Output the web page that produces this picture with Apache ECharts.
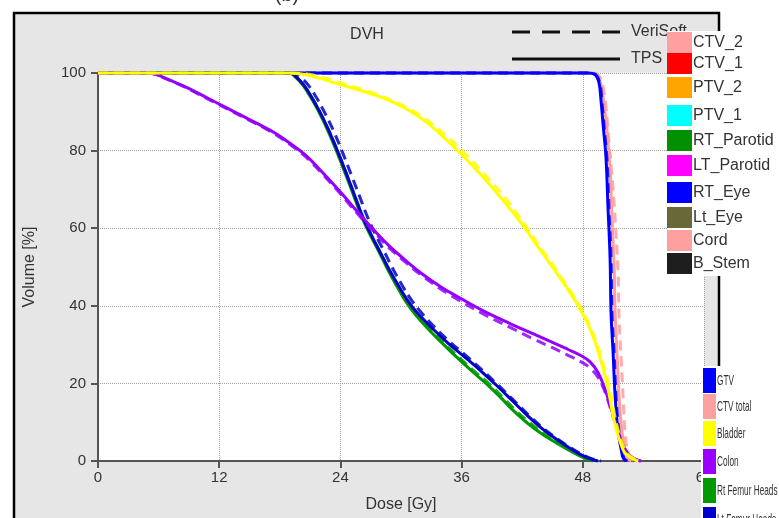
<!DOCTYPE html>
<html>
<head>
<meta charset="utf-8">
<script src="https://cdn.jsdelivr.net/npm/echarts@6/dist/echarts.min.js"></script>
<style>
  html, body { margin: 0; padding: 0; background: #fff; }
  #chart { width: 779px; height: 518px; }
</style>
</head>
<body>
<div id="chart"></div>
<script>
// axis ticks
const doseTicks = [0, 12, 24, 36, 48, 60]
const volumeTicks = [0, 20, 40, 60, 80, 100]

// DVH curves [dose Gy, volume %], TPS (solid) and VeriSoft (dashed)
const ctvTps = [[0,100],[48.7,100],[49.4,99.5],[49.8,97],[50.1,92],[50.4,85],[50.7,75],[50.9,62],[51.1,50],[51.2,38],[51.4,27],[51.6,16],[51.9,7],[52.2,2.5],[52.5,0.5],[52.8,0]]
const ctvVeri = [[0,100],[49,100],[49.6,99.3],[50,96.5],[50.3,91],[50.6,82],[51,70],[51.3,58],[51.5,48],[51.6,36],[51.8,26],[52,16],[52.2,7],[52.5,2],[52.9,0.4],[53.2,0]]
const gtvTps = [[0,100],[48.5,100],[49.2,99.6],[49.6,97.5],[49.8,93],[50,87],[50.3,78],[50.5,65],[50.7,52.4],[50.8,38],[51,28],[51.2,16.8],[51.5,7.4],[51.8,3],[52,0.8],[52.3,0]]
const gtvVeri = [[0,100],[48.6,100],[49.3,99.5],[49.7,97.2],[49.9,92.5],[50.1,86.5],[50.4,77.5],[50.6,64.5],[50.8,52],[50.9,38],[51.1,28],[51.3,16.5],[51.6,7.2],[51.9,2.8],[52.1,0.7],[52.4,0]]
const rtFemurTps = [[0,100],[18.9,100],[19.6,98.8],[20.3,96.8],[21,94],[21.8,90.3],[22.7,85.5],[23.6,80],[24.5,74],[25.3,68.5],[26.1,63],[27,58],[27.8,54],[28.7,49.3],[29.6,45],[30.5,41],[31.5,37.5],[33,33.2],[34.5,29.3],[35.7,26.3],[37,23.2],[38.5,19.8],[40,16],[41,13.3],[42.5,9.8],[44,6.9],[45.3,4.8],[46.5,3],[47.5,1.6],[48.3,0.6],[49,0]]
const rtFemurVeri = [[0,100],[19,100],[19.7,98.8],[20.4,96.8],[21.1,94],[21.9,90.3],[22.8,85.5],[23.7,80],[24.6,74],[25.4,68.5],[26.2,63],[27.1,58],[27.9,54],[28.8,49.3],[29.7,45],[30.6,41],[31.6,37.5],[33.1,33.3],[34.6,29.5],[35.8,26.6],[37.1,23.5],[38.6,20.2],[40.1,16.4],[41.1,13.7],[42.6,10.2],[44.1,7.2],[45.4,5],[46.6,3.1],[47.6,1.7],[48.5,0.6],[49.2,0]]
const ltFemurTps = [[0,100],[19,100],[19.7,98.8],[20.4,96.8],[21.1,94],[21.9,90.3],[22.8,85.5],[23.7,80],[24.6,74],[25.4,68.5],[26.2,63],[27.1,58],[27.9,54],[28.8,49.5],[29.7,45.4],[30.6,41.6],[31.6,38.2],[33.1,34.2],[34.6,30.5],[36.4,26.6],[38,23],[39.5,19.4],[41,15.6],[42.6,11.5],[44,8.3],[45.5,5.4],[46.6,3.5],[47.6,1.9],[48.6,0.7],[49.5,0]]
const ltFemurVeri = [[0,100],[19.3,100],[20.1,98.8],[20.9,96.6],[21.6,93.8],[22.4,90],[23.3,85.2],[24.2,79.6],[25.1,73.6],[25.9,68.2],[26.7,62.8],[27.5,58.2],[28.3,54.2],[29.1,50],[30,45.8],[30.9,42],[31.9,38.6],[33.3,34.6],[34.8,30.8],[36.5,27],[38.1,23.3],[39.6,19.6],[41.1,15.8],[42.7,11.7],[44.1,8.4],[45.6,5.5],[46.7,3.6],[47.7,2],[48.8,0.7],[49.8,0]]
const colonTps = [[0,100],[5,100],[6,99.4],[7,98.3],[8.5,96.6],[10,94.7],[11.7,92.4],[13.5,90],[15,88],[16.5,86],[17.6,84.4],[19,81.9],[20.6,78.7],[22,75],[23.85,69.8],[25,66.3],[26.1,63],[27.5,59],[28.8,55.5],[30.5,51.6],[32,48.4],[34,44.8],[35.7,42.2],[38,38.9],[40.9,35.3],[43,32.9],[45,30.6],[46.5,28.8],[47.8,27.2],[48.7,25.6],[49.5,22.8],[50.2,18.5],[50.8,13.5],[51.3,9.3],[51.8,5.3],[52.3,2.4],[53,0.7],[53.7,0]]
const colonVeri = [[0,100],[5,100],[6,99.3],[7,98.2],[8.5,96.5],[10,94.5],[11.7,92.2],[13.5,89.8],[15,87.8],[16.5,85.8],[17.6,84.1],[19,81.6],[20.6,78.3],[22,74.6],[23.85,69.3],[25,65.8],[26.1,62.5],[27.5,58.5],[28.8,55],[30.5,51.1],[32,47.9],[34,44.2],[35.7,41.5],[38,38.1],[40.9,34.3],[43,31.6],[45,29.2],[46.5,27.3],[47.8,25.6],[48.7,24],[49.5,21.6],[50.2,17.8],[50.8,13],[51.3,9],[51.8,5.1],[52.4,2.2],[53.1,0.6],[53.8,0]]
const bladderTps = [[0,100],[19,100],[20.5,99.6],[22,98.6],[24,97],[26,95.5],[28,93.8],[30,91.5],[32,88.3],[34,84],[36,79],[38,73.5],[40,67.5],[42,61],[43.5,55.4],[44.5,51.8],[45.5,48.1],[46.5,44.3],[47.5,40.2],[48.5,35.3],[49.2,30.8],[49.8,25.8],[50.3,21],[50.7,16],[51,11.5],[51.4,7.3],[51.8,4.2],[52.2,2],[53,0.5],[53.5,0]]
const bladderVeri = [[0,100],[19.5,100],[21,99.6],[22.5,98.7],[24.5,97.1],[26.5,95.5],[28.5,93.6],[30.5,91.2],[32.5,88],[34.5,83.8],[36.5,78.8],[38.5,73.2],[40.5,67.2],[42.3,60.8],[43.8,55],[44.8,51.4],[45.8,47.6],[46.8,43.7],[47.8,39.5],[48.7,34.8],[49.4,30.2],[50,25.2],[50.5,20.5],[50.9,15.5],[51.2,11.2],[51.6,7],[52,4],[52.4,1.9],[53.2,0.4],[53.7,0]]

// legends
const legendNames1 = ['CTV_2', 'CTV_1', 'PTV_2', 'PTV_1', 'RT_Parotid', 'LT_Parotid', 'RT_Eye', 'Lt_Eye', 'Cord', 'B_Stem']
const legendColors1 = ['#ffa0a0', '#ff0000', '#ffa500', '#00ffff', '#009000', '#ff00ff', '#0000ff', '#686838', '#ffa0a0', '#1e1e1e']
const legendNames2 = ['GTV', 'CTV total', 'Bladder', 'Colon', 'Rt Femur Heads', 'Lt Femur Heads']
const legendColors2 = ['#0000ff', '#ffa0a0', '#ffff00', '#9900ff', '#009900', '#0000c8']

const font = 'Liberation Sans, Arial, sans-serif'
const legendTops1 = [32, 53, 77, 105, 130, 155, 182, 207, 230, 253]
const legendTops2 = [368, 394, 421, 449, 478, 507]

const chart = echarts.init(document.getElementById('chart'))

function curve(name, data, color, dashed) {
  return {
    name: name,
    type: 'line',
    data: data,
    symbol: 'none',
    smooth: 0.4,
    clip: false,
    silent: true,
    lineStyle: {
      color: color,
      width: 3,
      type: dashed ? [10, 6] : 'solid',
      opacity: dashed ? 0.85 : 1
    }
  }
}

const graphics = [
  {
    type: 'rect', z: -10,
    shape: { x: 14, y: 13, width: 705, height: 530 },
    style: { fill: '#e6e6e6', stroke: '#000', lineWidth: 2.5 }
  },
  {
    type: 'text', z: 10, x: 287, y: 5,
    style: { text: '(b)', font: '20px ' + font, fill: '#333', textAlign: 'center', textVerticalAlign: 'bottom' }
  },
  {
    type: 'text', z: 10, x: 367, y: 35,
    style: { text: 'DVH', font: '16px ' + font, fill: '#333', textAlign: 'center', textVerticalAlign: 'middle' }
  },
  {
    type: 'line', z: 10,
    shape: { x1: 512, y1: 32, x2: 620, y2: 32 },
    style: { stroke: '#111', lineWidth: 3, lineDash: [18, 12] }
  },
  {
    type: 'line', z: 10,
    shape: { x1: 512, y1: 59, x2: 620, y2: 59 },
    style: { stroke: '#111', lineWidth: 3 }
  },
  {
    type: 'text', z: 10, x: 631, y: 32,
    style: { text: 'VeriSoft', font: '16px ' + font, fill: '#333', textVerticalAlign: 'middle' }
  },
  {
    type: 'text', z: 10, x: 631, y: 59,
    style: { text: 'TPS', font: '16px ' + font, fill: '#333', textVerticalAlign: 'middle' }
  },
  {
    type: 'rect', z: 50,
    shape: { x: 667, y: 31, width: 112, height: 245 },
    style: { fill: '#fff' }
  },
  {
    type: 'rect', z: 50,
    shape: { x: 701, y: 366, width: 78, height: 152 },
    style: { fill: '#fff' }
  }
]

legendNames1.forEach(function (name, i) {
  graphics.push({
    type: 'rect', z: 51,
    shape: { x: 667, y: legendTops1[i], width: 25, height: 21 },
    style: { fill: legendColors1[i] }
  })
  graphics.push({
    type: 'text', z: 51, x: 693, y: legendTops1[i] + 11,
    style: { text: name, font: '16px ' + font, fill: '#333', textVerticalAlign: 'middle' }
  })
})

legendNames2.forEach(function (name, i) {
  graphics.push({
    type: 'rect', z: 51,
    shape: { x: 703, y: legendTops2[i], width: 13, height: 25 },
    style: { fill: legendColors2[i] }
  })
  graphics.push({
    type: 'text', z: 51, x: 717, y: legendTops2[i] + 13, scaleX: 0.55,
    style: { text: name, font: '15px ' + font, fill: '#333', textVerticalAlign: 'middle' }
  })
})

const option = {
  backgroundColor: '#fff',
  animation: false,
  grid: {
    left: 98,
    top: 73,
    width: 606,
    height: 393,
    show: true,
    backgroundColor: '#fff',
    borderWidth: 0
  },
  xAxis: {
    type: 'value',
    min: doseTicks[0],
    max: doseTicks[doseTicks.length - 1],
    interval: doseTicks[1] - doseTicks[0],
    name: 'Dose [Gy]',
    nameLocation: 'middle',
    nameGap: 36,
    nameTextStyle: { color: '#333', fontSize: 16, fontFamily: font },
    axisLine: { lineStyle: { color: '#555', width: 2 } },
    axisTick: { length: 7, lineStyle: { color: '#555', width: 2 } },
    axisLabel: { color: '#333', fontSize: 15, fontFamily: font, margin: 9 },
    splitLine: { lineStyle: { color: '#a0a0a0', type: 'dotted' } }
  },
  yAxis: {
    type: 'value',
    min: volumeTicks[0],
    max: volumeTicks[volumeTicks.length - 1],
    interval: volumeTicks[1] - volumeTicks[0],
    name: 'Volume [%]',
    nameLocation: 'middle',
    nameGap: 60,
    nameTextStyle: { color: '#333', fontSize: 16, fontFamily: font },
    axisLine: { show: true, lineStyle: { color: '#555', width: 2 } },
    axisTick: { show: true, length: 7, lineStyle: { color: '#555', width: 2 } },
    axisLabel: { color: '#333', fontSize: 15, fontFamily: font, margin: 12 },
    splitLine: { lineStyle: { color: '#a0a0a0', type: 'dotted' } }
  },
  graphic: graphics,
  series: [
    curve('CTV total', ctvTps, '#ff9c9c', false),
    curve('CTV total', ctvVeri, '#ff9c9c', true),
    curve('GTV', gtvTps, '#0000ff', false),
    curve('GTV', gtvVeri, '#0000ff', true),
    curve('Rt Femur Heads', rtFemurTps, '#009900', false),
    curve('Rt Femur Heads', rtFemurVeri, '#009900', true),
    curve('Lt Femur Heads', ltFemurTps, '#0000c8', false),
    curve('Lt Femur Heads', ltFemurVeri, '#0000c8', true),
    curve('Colon', colonTps, '#9400ff', false),
    curve('Colon', colonVeri, '#9400ff', true),
    curve('Bladder', bladderTps, '#ffff00', false),
    curve('Bladder', bladderVeri, '#ffff00', true)
  ]
}

chart.setOption(option)
</script>
</body>
</html>
